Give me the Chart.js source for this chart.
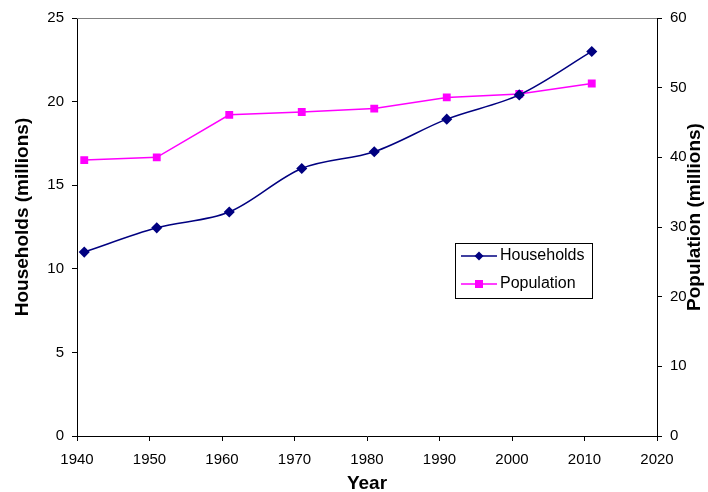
<!DOCTYPE html>
<html>
<head>
<meta charset="utf-8">
<script src="https://cdn.jsdelivr.net/npm/chart.js@4"></script>
<style>
  html, body { margin: 0; padding: 0; background: #fff; }
  #wrap { width: 708px; height: 492px; }
</style>
</head>
<body>
<div id="wrap"><canvas id="chart" width="708" height="492"></canvas></div>
<script>
// --- data ---
const years = [1941, 1951, 1961, 1971, 1981, 1991, 2001, 2011];
const households = [11.0, 12.45, 13.4, 16.0, 17.0, 18.95, 20.4, 23.0];
const population = [39.6, 40.0, 46.1, 46.5, 47.0, 48.6, 49.1, 50.6];

const FONT = 'Liberation Sans, Arial, sans-serif';

function toPoints(ys) {
  return years.map((x, i) => ({ x: x, y: ys[i] }));
}

// titles + legend + top border, drawn by hand so they sit like the excel chart
const extras = {
  id: 'extras',
  afterDraw(chart) {
    const ctx = chart.ctx;
    const area = chart.chartArea;
    ctx.save();

    // grey plot-area top border
    ctx.strokeStyle = '#808080';
    ctx.lineWidth = 1;
    ctx.beginPath();
    ctx.moveTo(area.left, area.top + 0.5);
    ctx.lineTo(area.right, area.top + 0.5);
    ctx.stroke();

    ctx.fillStyle = '#000';
    ctx.font = 'bold 19px ' + FONT;
    ctx.textAlign = 'center';
    ctx.textBaseline = 'middle';
    const titleY = 217;

    ctx.fillText('Year', (area.left + area.right) / 2, 484);

    ctx.save();
    ctx.translate(23, titleY);
    ctx.rotate(-Math.PI / 2);
    ctx.fillText('Households (millions)', 0, 0);
    ctx.restore();

    ctx.save();
    ctx.translate(695, titleY);
    ctx.rotate(-Math.PI / 2);
    ctx.fillText('Population (millions)', 0, 0);
    ctx.restore();

    // legend box
    const bx = 455, by = 243, bw = 137, bh = 55;
    ctx.fillStyle = '#fff';
    ctx.fillRect(bx, by, bw, bh);
    ctx.strokeStyle = '#000';
    ctx.strokeRect(bx + 0.5, by + 0.5, bw, bh);

    const items = chart.data.datasets;
    items.forEach((ds, i) => {
      const cy = by + 13 + i * 28;
      ctx.strokeStyle = ds.borderColor;
      ctx.lineWidth = 1.5;
      ctx.beginPath();
      ctx.moveTo(bx + 6, cy);
      ctx.lineTo(bx + 42, cy);
      ctx.stroke();
      ctx.fillStyle = ds.pointBackgroundColor;
      ctx.beginPath();
      if (ds.pointStyle === 'rectRot') {
        ctx.moveTo(bx + 24, cy - 4.5);
        ctx.lineTo(bx + 28.5, cy);
        ctx.lineTo(bx + 24, cy + 4.5);
        ctx.lineTo(bx + 19.5, cy);
        ctx.closePath();
      } else {
        ctx.rect(bx + 20, cy - 4, 8, 8);
      }
      ctx.fill();
      ctx.fillStyle = '#000';
      ctx.font = '16px ' + FONT;
      ctx.textAlign = 'left';
      ctx.textBaseline = 'middle';
      ctx.fillText(ds.label, bx + 45, cy);
    });

    ctx.restore();
  }
};

const tickFont = { family: FONT, size: 15 };

new Chart(document.getElementById('chart'), {
  type: 'line',
  data: {
    datasets: [
      {
        label: 'Households',
        data: toPoints(households),
        yAxisID: 'y',
        borderColor: '#000080',
        backgroundColor: '#000080',
        pointBackgroundColor: '#000080',
        pointBorderColor: '#000080',
        pointStyle: 'rectRot',
        pointRadius: 4.5,
        borderWidth: 1.5,
        tension: 0.33
      },
      {
        label: 'Population',
        data: toPoints(population),
        yAxisID: 'y1',
        borderColor: '#ff00ff',
        backgroundColor: '#ff00ff',
        pointBackgroundColor: '#ff00ff',
        pointBorderColor: '#ff00ff',
        pointStyle: 'rect',
        pointRadius: 4.5,
        borderWidth: 1.5,
        tension: 0
      }
    ]
  },
  options: {
    responsive: false,
    animation: false,
    layout: { padding: { top: 18, left: 0, right: 0, bottom: 0 } },
    plugins: { legend: { display: false }, tooltip: { enabled: false } },
    scales: {
      x: {
        type: 'linear',
        min: 1940, max: 2020,
        afterFit(scale) { scale.height = 56; },
        ticks: { stepSize: 10, color: '#000', font: tickFont, padding: 10,
                 callback: v => String(v) },
        grid: { drawOnChartArea: false, tickLength: 5, color: '#000' },
        border: { color: '#000', width: 1 }
      },
      y: {
        position: 'left',
        min: 0, max: 25,
        afterFit(scale) { scale.width = 77; },
        ticks: { stepSize: 5, color: '#000', font: tickFont, padding: 8 },
        grid: { drawOnChartArea: false, tickLength: 5, color: '#000' },
        border: { color: '#000', width: 1 }
      },
      y1: {
        position: 'right',
        min: 0, max: 60,
        afterFit(scale) { scale.width = 51; },
        ticks: { stepSize: 10, color: '#000', font: tickFont, padding: 8 },
        grid: { drawOnChartArea: false, tickLength: 5, color: '#000' },
        border: { color: '#000', width: 1 }
      }
    }
  },
  plugins: [extras]
});
</script>
</body>
</html>
